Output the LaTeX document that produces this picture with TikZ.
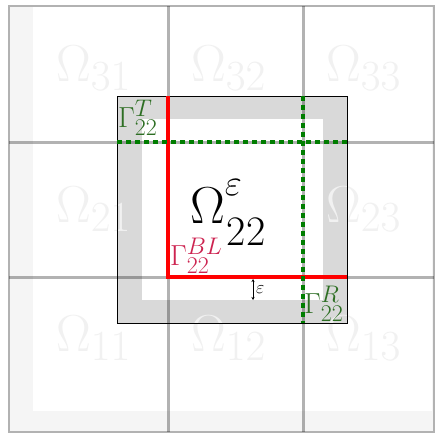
\documentclass[tikz,border=0pt]{standalone}
\usepackage{fix-cm}
\usepackage{amsmath}
\DeclareMathSizes{52}{52}{43}{35}
\DeclareMathSizes{29}{29}{24}{19}
\usetikzlibrary{arrows.meta}
\definecolor{gcol}{RGB}{45,110,35}
\definecolor{gline}{RGB}{0,125,0}
\definecolor{rcol}{RGB}{205,35,80}
\definecolor{faintcol}{RGB}{241,241,241}
\tikzset{
  gridline/.style={black, opacity=0.3, line width=3pt},
  faint/.style={anchor=base west, inner sep=0pt, text=faintcol, font=\fontsize{52}{60}\selectfont},
  lab/.style={anchor=base west, inner sep=0pt, font=\fontsize{29}{34}\selectfont},
  gdots/.style={gline, line width=4pt, dash pattern=on 5pt off 4pt},
  redline/.style={red, line width=4.5pt, line join=miter},
}
\begin{document}
\begin{tikzpicture}[x=1pt,y=-1pt]
\useasboundingbox (0,0) rectangle (435,434);
% frame
\fill[black!4] (9,6) rectangle (434,432);
\fill[white] (33,7) rectangle (432,411);
\draw[black!30, line width=1.5pt] (9,6) rectangle (434,432);
% extended subdomain
\fill[black!15] (117,96) rectangle (347,323);
\fill[white] (142,119) rectangle (323,300);
% faint cell labels
\node[faint] (o31) at (56,81) {$\Omega_{31}$};
\node[faint] (o32) at (191,81) {$\Omega_{32}$};
\node[faint] (o33) at (326,81) {$\Omega_{33}$};
\node[faint] (o21) at (56,222) {$\Omega_{21}$};
\node[faint] (o23) at (326,222) {$\Omega_{23}$};
\node[faint] (o11) at (56,351) {$\Omega_{11}$};
\node[faint] (o12) at (191,351) {$\Omega_{12}$};
\node[faint] (o13) at (326,351) {$\Omega_{13}$};
% grid
\draw[gridline] (168,6) -- (168,432);
\draw[gridline] (303,6) -- (303,432);
\draw[gridline] (9,142) -- (434,142);
\draw[gridline] (9,277) -- (434,277);
\draw[black, line width=0.8pt] (117,96) rectangle (347,323);
% interfaces
\draw[redline] (168,96) -- (168,277) -- (347,277);
\draw[gdots] (117,142) -- (347,142);
\draw[gdots] (303,96) -- (303,323);
% epsilon arrow
\coordinate (ea) at (253,279);
\coordinate (eb) at (253,300);
\draw[{Stealth[length=3pt,width=3pt]}-{Stealth[length=3pt,width=3pt]}, line width=0.5pt] (ea) -- (eb);
\node[anchor=west, inner sep=0pt, font=\fontsize{18}{20}\selectfont] (eps) at (256,290) {$\varepsilon$};
% labels
\node[lab, text=gcol] (gT) at (118,127) {$\Gamma_{22}^{T}$};
\node[lab, text=rcol] (gBL) at (170,265) {$\Gamma_{22}^{BL}$};
\node[lab, text=gcol] (gR) at (304,313) {$\Gamma_{22}^{R}$};
\node[anchor=base west, inner sep=0pt, font=\fontsize{52}{60}\selectfont] (o22) at (190,223)
  {$\Omega$\rlap{\raisebox{28pt}{\fontsize{37}{40}\selectfont$\varepsilon$}}\kern2pt\raisebox{-22pt}{\fontsize{42}{44}\selectfont 22}};
\end{tikzpicture}
\end{document}
